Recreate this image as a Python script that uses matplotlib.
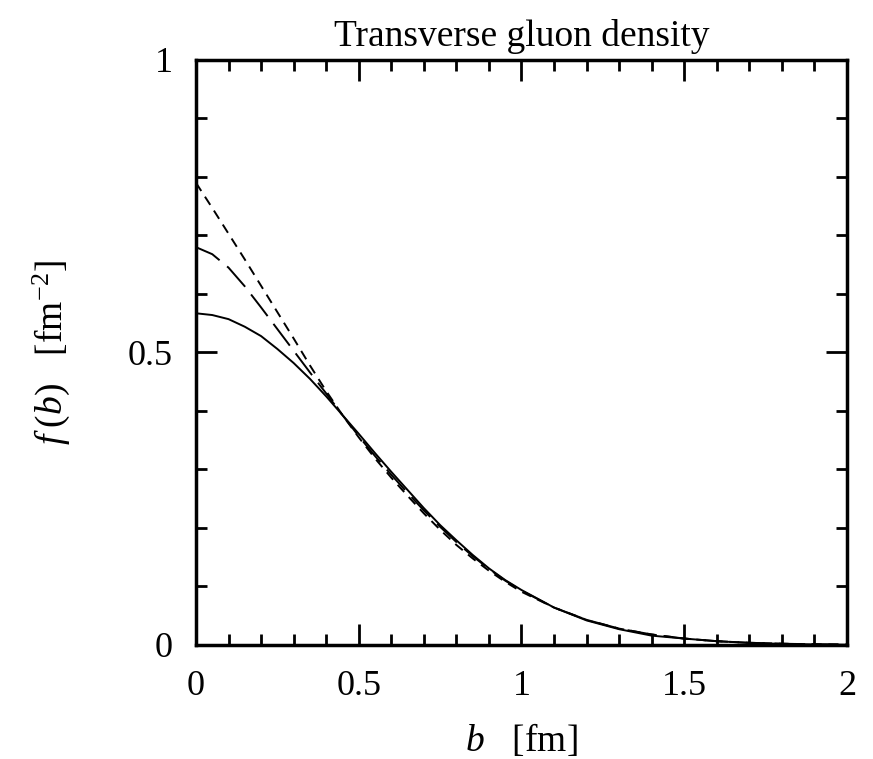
import matplotlib
matplotlib.use("Agg")
import matplotlib.pyplot as plt
from matplotlib.ticker import MultipleLocator

plt.rcParams['font.family'] = ['Liberation Serif', 'DejaVu Serif']
plt.rcParams['mathtext.fontset'] = 'custom'
plt.rcParams['mathtext.rm'] = 'Liberation Serif'
plt.rcParams['mathtext.it'] = 'Liberation Serif:italic'

b_vals = [0.0, 0.05, 0.1, 0.15, 0.2, 0.25, 0.3, 0.35, 0.4, 0.45, 0.5,
          0.55, 0.6, 0.65, 0.7, 0.75, 0.8, 0.85, 0.9, 0.95, 1.0,
          1.1, 1.2, 1.3, 1.4, 1.5, 1.6, 1.7, 1.8, 1.9, 2.0]

f_solid = [0.567, 0.564, 0.557, 0.544, 0.528, 0.506, 0.482, 0.455, 0.425, 0.393, 0.361,
           0.328, 0.296, 0.265, 0.234, 0.205, 0.179, 0.154, 0.131, 0.111, 0.094,
           0.064, 0.042, 0.027, 0.016, 0.011, 0.0065, 0.0035, 0.002, 0.001, 0.0005]

f_longdash = [0.680, 0.668, 0.645, 0.613, 0.577, 0.540, 0.503, 0.466, 0.430, 0.393, 0.357,
              0.323, 0.291, 0.260, 0.230, 0.202, 0.176, 0.152, 0.130, 0.110, 0.093,
              0.064, 0.043, 0.028, 0.018, 0.011, 0.0065, 0.0038, 0.0022, 0.0012, 0.0007]

f_shortdash = [0.790, 0.747, 0.703, 0.659, 0.614, 0.569, 0.524, 0.478, 0.434, 0.393, 0.355,
               0.319, 0.286, 0.255, 0.225, 0.197, 0.171, 0.148, 0.127, 0.108, 0.091,
               0.064, 0.043, 0.028, 0.018, 0.011, 0.0065, 0.0038, 0.0022, 0.0012, 0.0007]

x_ticks = [0, 0.5, 1, 1.5, 2]
x_ticklabels = ['0', '0.5', '1', '1.5', '2']
y_ticks = [0, 0.5, 1]
y_ticklabels = ['0', '0.5', '1']

fig = plt.figure(figsize=(8.73, 7.59), dpi=100)
ax = fig.add_axes([0.2245, 0.1502, 0.9702 - 0.2245, 0.921 - 0.1502])

ax.plot(b_vals, f_solid, color='black', lw=1.4, solid_capstyle='butt')
ax.plot(b_vals, f_longdash, color='black', lw=1.4, dashes=(14, 5))
ax.plot(b_vals, f_shortdash, color='black', lw=1.4, dashes=(5, 3.5))

ax.set_xlim(0, 2)
ax.set_ylim(0, 1)
ax.set_xticks(x_ticks)
ax.set_xticklabels(x_ticklabels)
ax.set_yticks(y_ticks)
ax.set_yticklabels(y_ticklabels)
ax.xaxis.set_minor_locator(MultipleLocator(0.1))
ax.yaxis.set_minor_locator(MultipleLocator(0.1))
ax.tick_params(which='both', direction='in', top=True, right=True, width=2, labelsize=26)
ax.tick_params(axis='x', which='major', length=15, pad=18)
ax.tick_params(axis='y', which='major', length=15, pad=17)
ax.tick_params(which='minor', length=8)
for s in ax.spines.values():
    s.set_linewidth(2.5)

ax.set_title('Transverse gluon density', fontsize=27, pad=10)
ax.set_xlabel(r'$b$   [fm]', fontsize=27, labelpad=14)
ax.set_ylabel(r'$f\;(b)$   [fm$^{-2}$]', fontsize=27, labelpad=40)

fig.savefig('out.png', dpi=100)
